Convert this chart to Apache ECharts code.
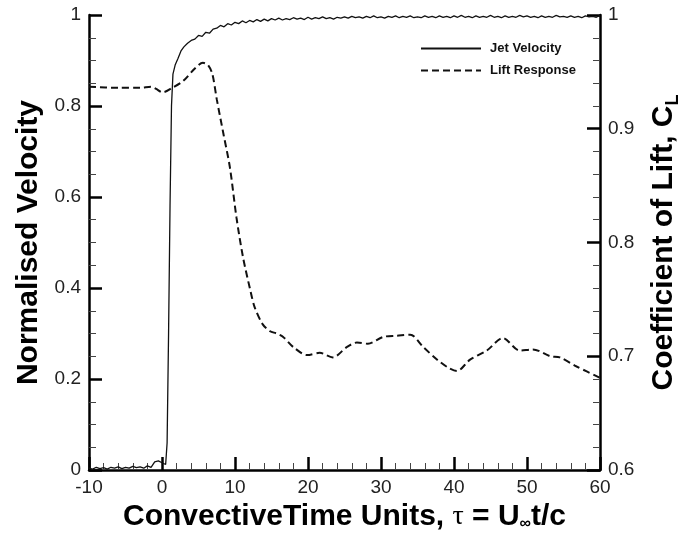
<!DOCTYPE html>
<html>
<head>
<meta charset="utf-8">
<script src="https://cdn.jsdelivr.net/npm/echarts@6/dist/echarts.min.js"></script>
<style>
html,body{margin:0;padding:0;background:#fff;}
#chart{width:694px;height:538px;}
</style>
</head>
<body>
<div id="chart"></div>
<script>
// ---- Data ----
const jetTime = [
  -10,-9.5,-9,-8.5,-8,-7.5,-7,-6.5,-6,-5.5,
  -5,-4.5,-4,-3.5,-3,-2.5,-2,-1.5,-1,-0.5,0,
  0.5,0.7,0.9,1.1,1.3,1.5,1.8,2.2,2.6,
  3,3.5,4,4.5,5,5.5,6,6.5,7,7.5,
  8,8.5,9,9.5,10,10.5,11,11.5,12,12.5,
  13,13.5,14,14.5,15,15.5,16,16.5,17,17.5,
  18,18.5,19,19.5,20,20.5,21,21.5,22,22.5,
  23,23.5,24,24.5,25,25.5,26,26.5,27,27.5,
  28,28.5,29,29.5,30,30.5,31,31.5,32,32.5,
  33,33.5,34,34.5,35,35.5,36,36.5,37,37.5,
  38,38.5,39,39.5,40,40.5,41,41.5,42,42.5,
  43,43.5,44,44.5,45,45.5,46,46.5,47,47.5,
  48,48.5,49,49.5,50,50.5,51,51.5,52,52.5,
  53,53.5,54,54.5,55,55.5,56,56.5,57,57.5,
  58,58.5,59,59.5,60
];
const jetVelocity = [
  0.004,0.002,0.006,0.003,0.005,0.002,0.006,0.004,0.007,0.003,
  0.006,0.004,0.008,0.005,0.007,0.004,0.009,0.006,0.018,0.020,0.016,
  0.012,0.06,0.30,0.58,0.80,0.87,0.89,0.905,0.921,
  0.930,0.938,0.944,0.947,0.955,0.953,0.962,0.960,0.969,0.971,
  0.977,0.974,0.981,0.978,0.984,0.981,0.987,0.983,0.988,0.985,
  0.990,0.986,0.991,0.987,0.992,0.989,0.993,0.989,0.992,0.990,
  0.994,0.991,0.993,0.990,0.995,0.991,0.994,0.992,0.996,0.992,
  0.994,0.991,0.995,0.993,0.996,0.993,0.997,0.994,0.996,0.993,
  0.997,0.994,0.998,0.994,0.996,0.993,0.997,0.995,0.998,0.994,
  0.997,0.995,0.998,0.994,0.996,0.994,0.998,0.995,0.997,0.994,
  0.998,0.995,0.997,0.994,0.998,0.995,0.999,0.995,0.997,0.994,
  0.998,0.995,0.997,0.995,0.999,0.995,0.997,0.994,0.998,0.995,
  0.997,0.995,0.999,0.996,0.998,0.995,0.997,0.994,0.998,0.995,
  0.997,0.995,0.999,0.996,0.997,0.995,0.998,0.995,0.997,0.994,
  0.998,0.996,0.997,0.995,0.999
];
const liftTime = [
  -10,-6,-3,-1.5,-0.8,0.1,1.4,2.9,4.5,5.6,
  6.3,6.9,7.5,8.4,9.3,10.2,11.1,12.1,12.7,13.8,
  14.8,15.7,16.6,18.0,19.9,21.6,23.4,25.3,26.7,28.2,
  30.3,32.2,34.0,35.8,37.7,39.2,40.4,42.2,44.5,46.7,
  49.0,50.8,53.2,54.5,56.8,60
];
const liftCoefficient = [
  0.937,0.936,0.936,0.937,0.935,0.932,0.936,0.942,0.953,0.958,
  0.956,0.948,0.926,0.896,0.866,0.822,0.787,0.758,0.743,0.728,
  0.722,0.720,0.717,0.708,0.701,0.703,0.699,0.708,0.712,0.711,
  0.717,0.718,0.719,0.708,0.697,0.690,0.687,0.697,0.705,0.716,
  0.705,0.706,0.700,0.699,0.691,0.681
];
const seriesNames = ['Jet Velocity', 'Lift Response'];
const xTitle = 'ConvectiveTime Units, {tau|τ} = U{inf|∞}t/c';
const yLeftTitle = 'Normalised Velocity';
const yRightTitle = 'Coefficient of Lift, C{sub|L}';

// ---- Chart ----
const FONT = 'Arial, "Liberation Sans", Helvetica, sans-serif';
const chart = echarts.init(document.getElementById('chart'), null, {renderer: 'canvas'});
const fmt = v => (v === 0 ? '0' : v === 1 ? '1' : v.toFixed(1));
const titleStyle = {fontFamily: FONT, fontSize: 30, fontWeight: 'bold', color: '#000'};
const axisCommon = {
  axisLine: {show: true, onZero: false, lineStyle: {color: '#000', width: 2.5}},
  axisTick: {show: true, inside: true, length: 13, lineStyle: {color: '#000', width: 2.5}},
  minorTick: {show: true, length: 7, lineStyle: {color: '#444', width: 1}},
  splitLine: {show: false},
  axisLabel: {fontFamily: FONT, fontSize: 19, color: '#222', margin: 8, formatter: fmt}
};
const option = {
  animation: false,
  backgroundColor: '#fff',
  grid: {left: 89, right: 94, top: 15, bottom: 68},
  legend: {
    orient: 'vertical', left: 420, top: 42, padding: 0,
    itemWidth: 60, itemHeight: 14, itemGap: 9,
    itemStyle: {opacity: 0},
    textStyle: {fontFamily: FONT, fontSize: 13, fontWeight: 'bold', color: '#111', padding: [0, 0, 0, 4]},
    data: seriesNames
  },
  xAxis: Object.assign({}, axisCommon, {
    type: 'value', min: -10, max: 60, interval: 10,
    minorTick: Object.assign({}, axisCommon.minorTick, {splitNumber: 5}),
    axisLabel: Object.assign({}, axisCommon.axisLabel, {formatter: v => String(v)}),
    name: xTitle, nameLocation: 'middle', nameGap: 26,
    nameTextStyle: Object.assign({}, titleStyle, {
      rich: {
        tau: {fontFamily: '"Liberation Serif", "Times New Roman", serif', fontSize: 28, fontWeight: 'normal', color: '#000'},
        inf: {fontFamily: FONT, fontSize: 16, fontWeight: 'bold', color: '#000', verticalAlign: 'bottom', lineHeight: 16}
      }
    })
  }),
  yAxis: [
    Object.assign({}, axisCommon, {
      type: 'value', position: 'left', min: 0, max: 1, interval: 0.2,
      minorTick: Object.assign({}, axisCommon.minorTick, {splitNumber: 4}),
      name: yLeftTitle, nameLocation: 'middle', nameGap: 44, nameRotate: 90,
      nameTextStyle: titleStyle
    }),
    Object.assign({}, axisCommon, {
      type: 'value', position: 'right', min: 0.6, max: 1, interval: 0.1,
      minorTick: Object.assign({}, axisCommon.minorTick, {splitNumber: 5}),
      name: yRightTitle, nameLocation: 'middle', nameGap: 46, nameRotate: 90,
      nameTextStyle: Object.assign({}, titleStyle, {
        lineHeight: 36,
        rich: {
          sub: {fontFamily: FONT, fontSize: 18, fontWeight: 'bold', color: '#000', verticalAlign: 'bottom', lineHeight: 10}
        }
      })
    })
  ],
  series: [
    {
      name: seriesNames[0], type: 'line', yAxisIndex: 0,
      symbol: 'none', showSymbol: false,
      lineStyle: {color: '#111', width: 1.3},
      itemStyle: {color: '#111'},
      data: jetTime.map((t, i) => [t, jetVelocity[i]])
    },
    {
      name: seriesNames[1], type: 'line', yAxisIndex: 1,
      symbol: 'none', showSymbol: false, smooth: 0.3,
      lineStyle: {color: '#111', width: 2, type: [7, 4]},
      itemStyle: {color: '#111'},
      data: liftTime.map((t, i) => [t, liftCoefficient[i]])
    }
  ]
};
chart.setOption(option);
</script>
</body>
</html>
